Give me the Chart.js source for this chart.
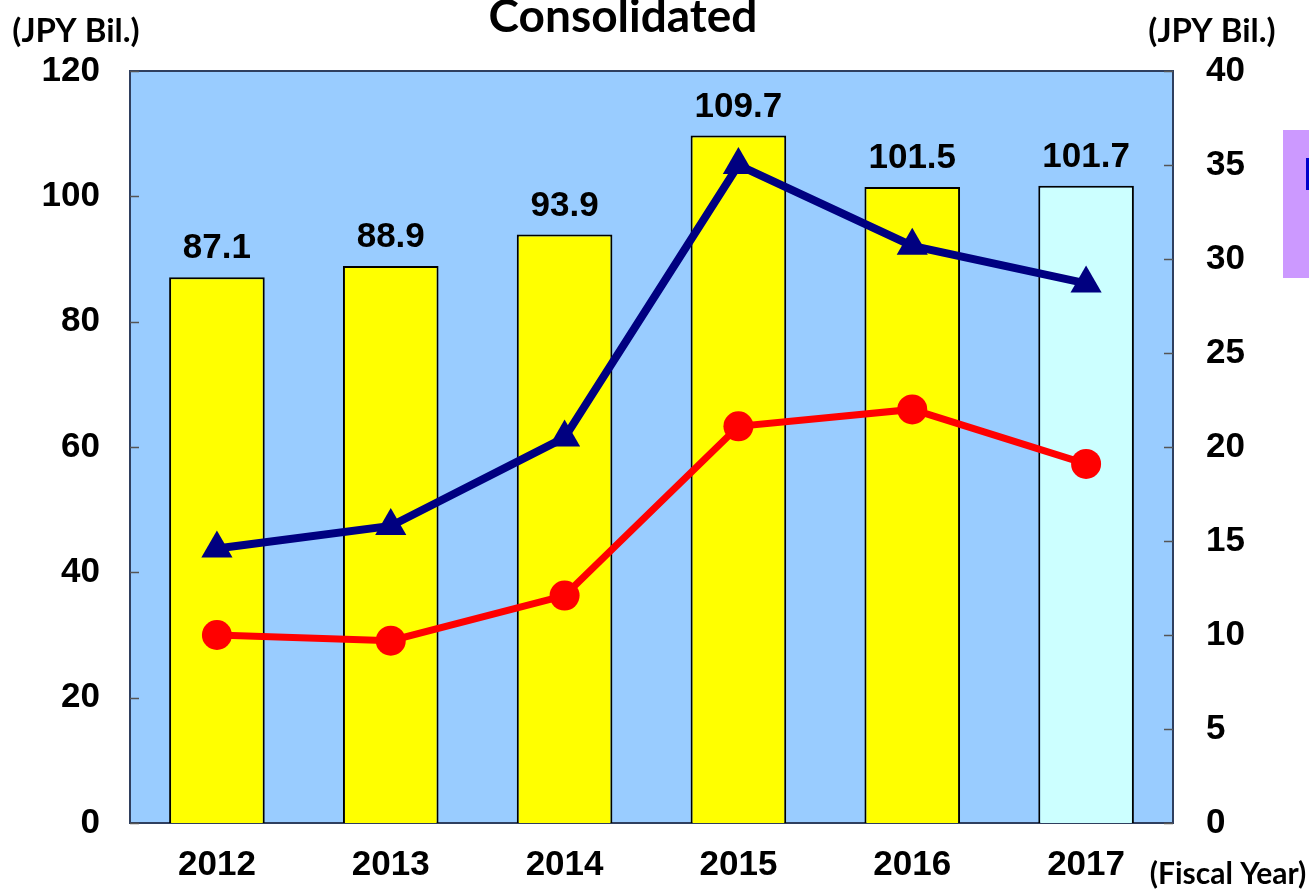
<!DOCTYPE html>
<html>
<head>
<meta charset="utf-8">
<script src="https://cdn.jsdelivr.net/npm/chart.js@4"></script>
<style>
  html, body { margin: 0; padding: 0; background: #fff; }
  #wrap { width: 1309px; height: 892px; position: relative; }
</style>
</head>
<body>
<div id="wrap"><canvas id="chart"></canvas></div>
<script>
var years = ['2012', '2013', '2014', '2015', '2016', '2017'];
var sales = [87.1, 88.9, 93.9, 109.7, 101.5, 101.7];
var blueLine = [14.6, 15.8, 20.5, 35.0, 30.7, 28.7];
var redLine = [10.0, 9.7, 12.1, 21.1, 22.0, 19.1];
var leftTicks = [0, 20, 40, 60, 80, 100, 120];
var rightTicks = [0, 5, 10, 15, 20, 25, 30, 35, 40];

var numFont = { family: '"Liberation Sans", Arial, sans-serif', size: 35, weight: 'bold' };

var extras = {
  id: 'extras',
  beforeDatasetsDraw: function(chart) {
    var ctx = chart.ctx, a = chart.chartArea;
    ctx.save();
    ctx.fillStyle = '#99ccff';
    ctx.fillRect(a.left, a.top, a.right - a.left, a.bottom - a.top);
    ctx.strokeStyle = '#2f3f5f';
    ctx.lineWidth = 2;
    ctx.strokeRect(a.left, a.top, a.right - a.left, a.bottom - a.top);
    // small inward tick marks
    ctx.strokeStyle = '#555';
    ctx.lineWidth = 1.5;
    var yl = chart.scales.y, yr = chart.scales.y2;
    leftTicks.forEach(function(v) {
      var p = Math.round(yl.getPixelForValue(v)) + 0.5;
      ctx.beginPath(); ctx.moveTo(a.left, p); ctx.lineTo(a.left + 9, p); ctx.stroke();
    });
    rightTicks.forEach(function(v) {
      var p = Math.round(yr.getPixelForValue(v)) + 0.5;
      ctx.beginPath(); ctx.moveTo(a.right, p); ctx.lineTo(a.right - 9, p); ctx.stroke();
    });
    ctx.restore();
  },
  afterDraw: function(chart) {
    var ctx = chart.ctx;
    ctx.save();
    // bar value labels
    var meta = chart.getDatasetMeta(2);
    ctx.fillStyle = '#000';
    ctx.font = 'bold 35px "Liberation Sans", Arial, sans-serif';
    ctx.textAlign = 'center';
    ctx.textBaseline = 'alphabetic';
    meta.data.forEach(function(bar, i) {
      ctx.fillText(sales[i].toFixed(1), bar.x, bar.y - 19);
    });
    // title and unit labels
    ctx.font = 'bold 46px Lato, "Open Sans", sans-serif';
    ctx.fillText('Consolidated', 623, 32);
    ctx.font = 'bold 33px Lato, "Open Sans", sans-serif';
    ctx.fillText('(JPY Bil.)', 76, 42);
    ctx.fillText('(JPY Bil.)', 1212, 42);
    ctx.font = 'bold 30px Lato, "Open Sans", sans-serif';
    ctx.fillText('(Fiscal Year)', 1228, 884);
    // clipped legend box at the right edge
    ctx.fillStyle = '#cc99ff';
    ctx.fillRect(1283, 130, 30, 148);
    ctx.fillStyle = '#0000cc';
    ctx.fillRect(1306, 158, 6, 32);
    ctx.restore();
  }
};

new Chart(document.getElementById('chart'), {
  type: 'bar',
  data: {
    labels: years,
    datasets: [{
      type: 'line',
      data: blueLine,
      yAxisID: 'y2',
      order: 1,
      borderColor: '#000080',
      backgroundColor: '#000080',
      borderWidth: 8,
      pointStyle: 'triangle',
      pointRadius: 18,
      pointBorderWidth: 0,
      tension: 0
    }, {
      type: 'line',
      data: redLine,
      yAxisID: 'y2',
      order: 2,
      borderColor: '#ff0000',
      backgroundColor: '#ff0000',
      borderWidth: 7,
      pointStyle: 'circle',
      pointRadius: 15,
      pointBorderWidth: 0,
      tension: 0
    }, {
      type: 'bar',
      data: sales,
      yAxisID: 'y',
      order: 3,
      backgroundColor: ['#ffff00', '#ffff00', '#ffff00', '#ffff00', '#ffff00', '#ccffff'],
      borderColor: '#000',
      borderWidth: 2,
      categoryPercentage: 1,
      barPercentage: 0.55
    }]
  },
  options: {
    responsive: true,
    maintainAspectRatio: false,
    animation: false,
    layout: { padding: { top: 71, bottom: 0, left: 0, right: 0 } },
    plugins: { legend: { display: false }, tooltip: { enabled: false } },
    scales: {
      x: {
        grid: { display: false, drawTicks: false },
        border: { display: false },
        ticks: { color: '#000', font: numFont, padding: 21 },
        afterFit: function(s) { s.height = 69; }
      },
      y: {
        position: 'left',
        min: 0, max: 120,
        grid: { display: false, drawTicks: false },
        border: { display: false },
        ticks: { stepSize: 20, color: '#000', font: numFont, padding: 30 },
        afterFit: function(s) { s.width = 130; }
      },
      y2: {
        position: 'right',
        min: 0, max: 40,
        grid: { display: false, drawTicks: false },
        border: { display: false },
        ticks: { stepSize: 5, color: '#000', font: numFont, padding: 33 },
        afterFit: function(s) { s.width = 136; }
      }
    }
  },
  plugins: [extras]
});
</script>
</body>
</html>
